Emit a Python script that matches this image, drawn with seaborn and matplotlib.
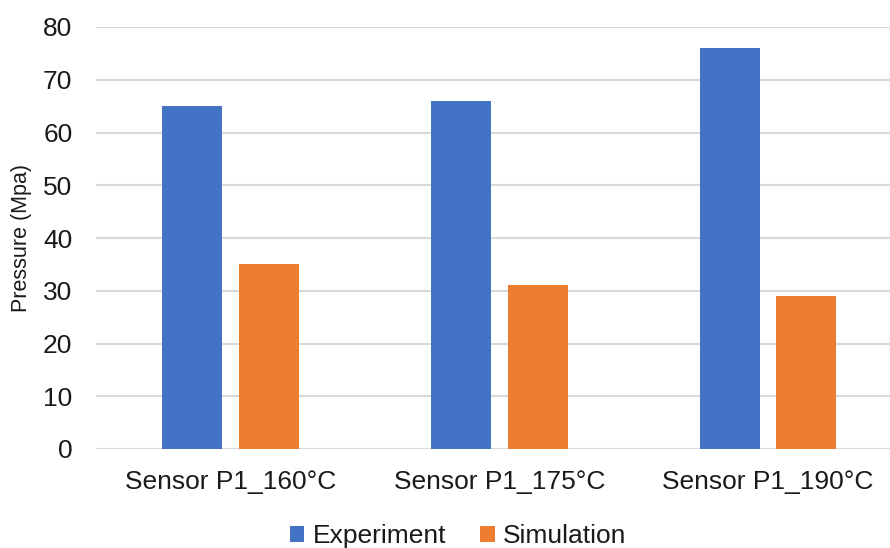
import matplotlib
matplotlib.use("Agg")
import matplotlib.pyplot as plt
import seaborn as sns
import pandas as pd
from matplotlib.patches import Patch

categories = ["Sensor P1_160°C", "Sensor P1_175°C", "Sensor P1_190°C"]
experiment = [65, 66, 76]
simulation = [35, 31, 29]
series_names = ["Experiment", "Simulation"]
colors = ["#4472C4", "#ED7D31"]

df = pd.DataFrame({
    "category": categories * 2,
    "value": experiment + simulation,
    "series": [series_names[0]] * 3 + [series_names[1]] * 3,
})

sns.set_theme(style="white")
plt.rcParams["font.family"] = ["Liberation Sans", "DejaVu Sans"]

fig = plt.figure(figsize=(8.9, 5.48), dpi=100)
W, H = 890, 548
left, right, top, bottom = 96, 902.5, 27, 449
ax = fig.add_axes([left / W, (H - bottom) / H, (right - left) / W, (bottom - top) / H])

sns.barplot(data=df, x="category", y="value", hue="series", order=categories,
            hue_order=series_names, palette=colors, width=0.57, gap=0.218,
            saturation=1, ax=ax, legend=False, linewidth=0)

ax.set_ylim(0, 80)
ax.set_xlim(-0.5, 2.5)
ax.set_yticks(range(0, 81, 10))
ax.yaxis.grid(True, color="#d9d9d9", linewidth=1.5)
ax.set_axisbelow(True)
for s in ax.spines.values():
    s.set_visible(False)
ax.tick_params(axis="y", length=0, pad=17, labelsize=19, labelcolor="#1a1a1a")
ax.tick_params(axis="x", length=0, pad=15, labelsize=19, labelcolor="#1a1a1a")
ax.set_xlabel("")
ax.set_ylabel("Pressure (Mpa)", fontsize=15.5, color="#1a1a1a", labelpad=8)

handles = [Patch(facecolor=c, edgecolor="none") for c in colors]
fig.legend(handles, series_names, loc="center", bbox_to_anchor=(458 / W, 12 / H),
           ncol=2, frameon=False, fontsize=19, handlelength=0.55, handleheight=0.55,
           handletextpad=0.3, columnspacing=1.3, labelcolor="#1a1a1a")

fig.savefig("out.png", dpi=100)
